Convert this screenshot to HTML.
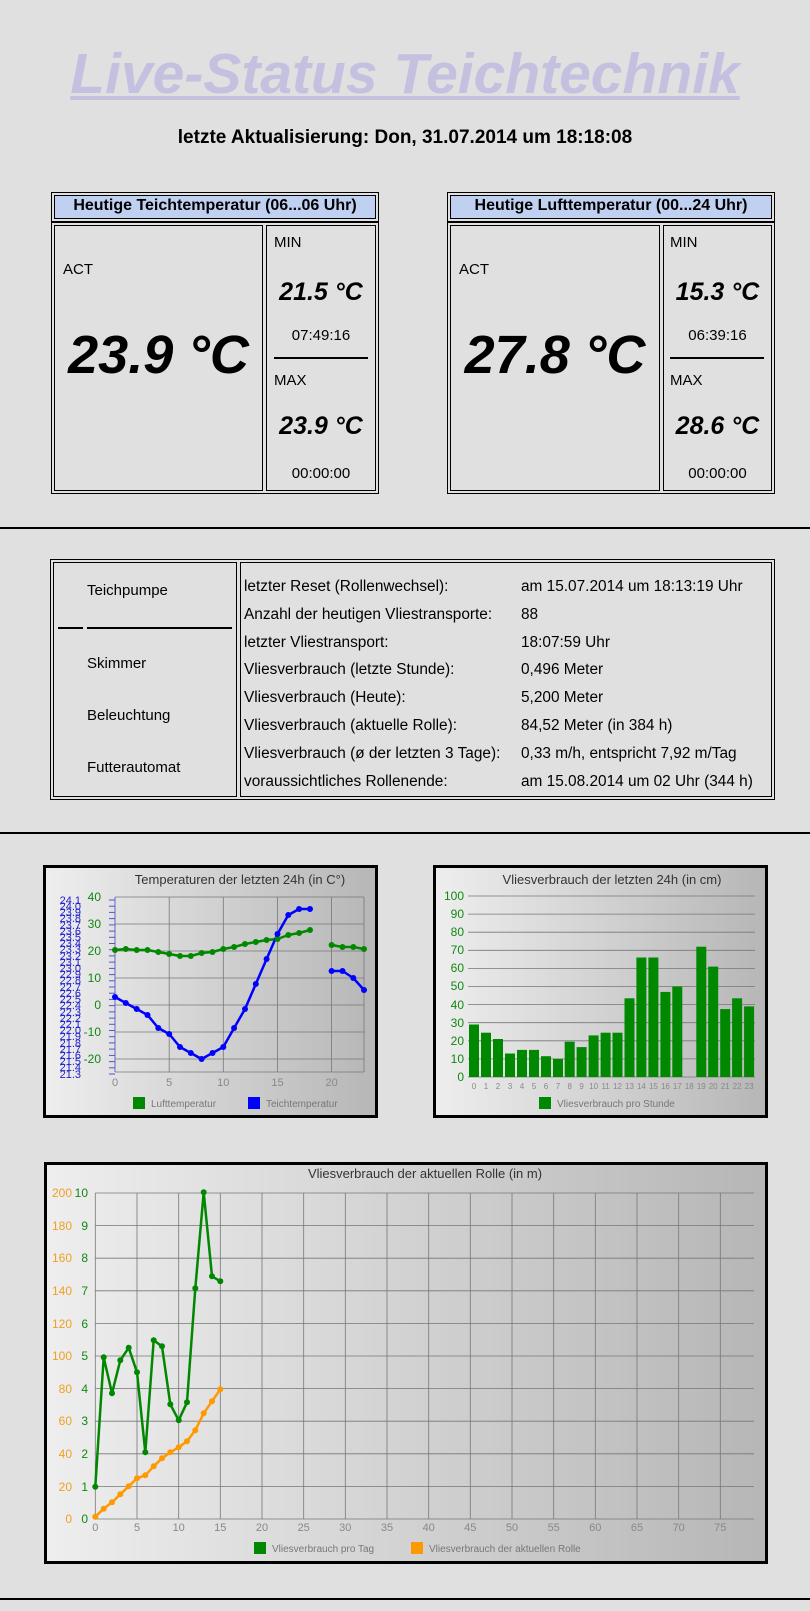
<!DOCTYPE html>
<html><head><meta charset="utf-8"><style>
*{margin:0;padding:0;box-sizing:border-box}
body{width:810px;height:1611px;background:#e0e0e0;position:relative;overflow:hidden;font-family:"Liberation Sans",Arial,sans-serif;color:#000}
.a{position:absolute}
.b{position:absolute;border:1px solid #000}
.t{position:absolute;white-space:nowrap}
.hr{position:absolute;left:0;width:810px;height:2px;background:#000}
</style></head><body>

<div class="t" style="left:0;width:810px;top:41px;text-align:center;font-size:57px;font-weight:bold;font-style:italic;color:#c4c0e0;"><span style="text-decoration:underline;text-decoration-thickness:4px;text-underline-offset:3px">Live-Status Teichtechnik</span></div>
<div class="t" style="left:0;width:810px;top:127px;text-align:center;font-size:19px;font-weight:bold;"><span style="display:inline-block;transform:scaleX(1.0)">letzte Aktualisierung: Don, 31.07.2014 um 18:18:08</span></div>

<!-- left temp box -->
<div class="b" style="left:51px;top:192px;width:328px;height:30px"></div>
<div class="b" style="left:54px;top:195px;width:322px;height:24px;background:#c0d0f0"></div>
<div class="t" style="left:51px;width:328px;top:197px;text-align:center;font-size:16px;font-weight:bold">Heutige Teichtemperatur (06...06 Uhr)</div>
<div class="b" style="left:51px;top:222px;width:328px;height:272px"></div>
<div class="b" style="left:54px;top:225px;width:209px;height:266px"></div>
<div class="b" style="left:266px;top:225px;width:110px;height:266px"></div>
<div class="t" style="left:63px;top:261px;font-size:15px">ACT</div>
<div class="t" style="left:54px;width:209px;top:324px;text-align:center;font-size:54px;font-weight:bold;font-style:italic">23.9 °C</div>
<div class="t" style="left:274px;top:234px;font-size:15px">MIN</div>
<div class="t" style="left:266px;width:110px;top:278px;text-align:center;font-size:25px;font-weight:bold;font-style:italic">21.5 °C</div>
<div class="t" style="left:266px;width:110px;top:327px;text-align:center;font-size:15px">07:49:16</div>
<div class="a" style="left:274px;top:357px;width:94px;height:2px;background:#000"></div>
<div class="t" style="left:274px;top:372px;font-size:15px">MAX</div>
<div class="t" style="left:266px;width:110px;top:412px;text-align:center;font-size:25px;font-weight:bold;font-style:italic">23.9 °C</div>
<div class="t" style="left:266px;width:110px;top:465px;text-align:center;font-size:15px">00:00:00</div>

<!-- right temp box -->
<div class="b" style="left:447px;top:192px;width:328px;height:30px"></div>
<div class="b" style="left:450px;top:195px;width:322px;height:24px;background:#c0d0f0"></div>
<div class="t" style="left:447px;width:328px;top:197px;text-align:center;font-size:16px;font-weight:bold">Heutige Lufttemperatur (00...24 Uhr)</div>
<div class="b" style="left:447px;top:222px;width:328px;height:272px"></div>
<div class="b" style="left:450px;top:225px;width:210px;height:266px"></div>
<div class="b" style="left:663px;top:225px;width:109px;height:266px"></div>
<div class="t" style="left:459px;top:261px;font-size:15px">ACT</div>
<div class="t" style="left:450px;width:210px;top:324px;text-align:center;font-size:54px;font-weight:bold;font-style:italic">27.8 °C</div>
<div class="t" style="left:670px;top:234px;font-size:15px">MIN</div>
<div class="t" style="left:663px;width:109px;top:278px;text-align:center;font-size:25px;font-weight:bold;font-style:italic">15.3 °C</div>
<div class="t" style="left:663px;width:109px;top:327px;text-align:center;font-size:15px">06:39:16</div>
<div class="a" style="left:670px;top:357px;width:94px;height:2px;background:#000"></div>
<div class="t" style="left:670px;top:372px;font-size:15px">MAX</div>
<div class="t" style="left:663px;width:109px;top:412px;text-align:center;font-size:25px;font-weight:bold;font-style:italic">28.6 °C</div>
<div class="t" style="left:663px;width:109px;top:465px;text-align:center;font-size:15px">00:00:00</div>

<div class="hr" style="top:527px"></div>

<!-- status table -->
<div class="b" style="left:50px;top:559px;width:725px;height:241px"></div>
<div class="b" style="left:53px;top:562px;width:184px;height:235px"></div>
<div class="b" style="left:240px;top:562px;width:532px;height:235px"></div>
<div class="t" style="left:87px;top:582px;font-size:15px">Teichpumpe</div>
<div class="a" style="left:58px;top:627px;width:25px;height:2px;background:#000"></div>
<div class="a" style="left:87px;top:627px;width:145px;height:2px;background:#000"></div>
<div class="t" style="left:87px;top:655px;font-size:15px">Skimmer</div>
<div class="t" style="left:87px;top:707px;font-size:15px">Beleuchtung</div>
<div class="t" style="left:87px;top:759px;font-size:15px">Futterautomat</div>
<div style="position:absolute;left:244px;top:573px;font-size:15.4px;line-height:27.8px;white-space:nowrap">letzter Reset (Rollenwechsel):<br>Anzahl der heutigen Vliestransporte:<br>letzter Vliestransport:<br>Vliesverbrauch (letzte Stunde):<br>Vliesverbrauch (Heute):<br>Vliesverbrauch (aktuelle Rolle):<br>Vliesverbrauch (ø der letzten 3 Tage):<br>voraussichtliches Rollenende:</div>
<div style="position:absolute;left:521px;top:573px;font-size:15.4px;line-height:27.8px;white-space:nowrap">am 15.07.2014 um 18:13:19 Uhr<br>88<br>18:07:59 Uhr<br>0,496 Meter<br>5,200 Meter<br>84,52 Meter (in 384 h)<br>0,33 m/h, entspricht 7,92 m/Tag<br>am 15.08.2014 um 02 Uhr (344 h)</div>

<div class="hr" style="top:832px"></div>
<div class="hr" style="top:1598px"></div>

<svg class="a" style="left:0;top:0" width="810" height="1611" font-family="Liberation Sans, Arial, sans-serif">
<defs>
<linearGradient id="g" x1="0" x2="1" y1="0" y2="0"><stop offset="0" stop-color="#eeeeee"/><stop offset="1" stop-color="#b6b6b6"/></linearGradient>
</defs>

<!-- Chart 1 -->
<rect x="44.5" y="866.5" width="332" height="250" fill="url(#g)" stroke="#000" stroke-width="3"/>
<text x="240" y="884" font-size="13" fill="#333" text-anchor="middle">Temperaturen der letzten 24h (in C°)</text>
<g stroke="#777" stroke-width="0.8">
<line x1="115" x2="364" y1="897" y2="897"/><line x1="115" x2="364" y1="924" y2="924"/><line x1="115" x2="364" y1="951" y2="951"/><line x1="115" x2="364" y1="978" y2="978"/><line x1="115" x2="364" y1="1005" y2="1005"/><line x1="115" x2="364" y1="1032" y2="1032"/><line x1="115" x2="364" y1="1059" y2="1059"/><line x1="115" x2="364" y1="1072" y2="1072"/>
<line x1="169.2" x2="169.2" y1="897" y2="1072"/><line x1="223.3" x2="223.3" y1="897" y2="1072"/><line x1="277.5" x2="277.5" y1="897" y2="1072"/><line x1="331.6" x2="331.6" y1="897" y2="1072"/><line x1="364" x2="364" y1="897" y2="1072"/>
</g>
<line x1="115" x2="115" y1="897" y2="1072" stroke="#66c" stroke-width="1"/>
<g stroke="#55c" stroke-width="1">
<line x1="109" x2="115" y1="900" y2="900"/><line x1="109" x2="115" y1="906.2" y2="906.2"/><line x1="109" x2="115" y1="912.4" y2="912.4"/><line x1="109" x2="115" y1="918.6" y2="918.6"/><line x1="109" x2="115" y1="924.9" y2="924.9"/><line x1="109" x2="115" y1="931.1" y2="931.1"/><line x1="109" x2="115" y1="937.3" y2="937.3"/><line x1="109" x2="115" y1="943.5" y2="943.5"/><line x1="109" x2="115" y1="949.7" y2="949.7"/><line x1="109" x2="115" y1="955.9" y2="955.9"/><line x1="109" x2="115" y1="962.1" y2="962.1"/><line x1="109" x2="115" y1="968.4" y2="968.4"/><line x1="109" x2="115" y1="974.6" y2="974.6"/><line x1="109" x2="115" y1="980.8" y2="980.8"/><line x1="109" x2="115" y1="987" y2="987"/><line x1="109" x2="115" y1="993.2" y2="993.2"/><line x1="109" x2="115" y1="999.4" y2="999.4"/><line x1="109" x2="115" y1="1005.6" y2="1005.6"/><line x1="109" x2="115" y1="1011.9" y2="1011.9"/><line x1="109" x2="115" y1="1018.1" y2="1018.1"/><line x1="109" x2="115" y1="1024.3" y2="1024.3"/><line x1="109" x2="115" y1="1030.5" y2="1030.5"/><line x1="109" x2="115" y1="1036.7" y2="1036.7"/><line x1="109" x2="115" y1="1042.9" y2="1042.9"/><line x1="109" x2="115" y1="1049.1" y2="1049.1"/><line x1="109" x2="115" y1="1055.4" y2="1055.4"/><line x1="109" x2="115" y1="1061.6" y2="1061.6"/><line x1="109" x2="115" y1="1067.8" y2="1067.8"/><line x1="109" x2="115" y1="1074" y2="1074"/>
</g>
<g font-size="11" fill="#22c" text-anchor="end">
<text x="81" y="904">24.1</text><text x="81" y="910">24.0</text><text x="81" y="916">23.9</text><text x="81" y="922">23.8</text><text x="81" y="929">23.7</text><text x="81" y="935">23.6</text><text x="81" y="941">23.5</text><text x="81" y="947">23.4</text><text x="81" y="953">23.3</text><text x="81" y="960">23.2</text><text x="81" y="966">23.1</text><text x="81" y="972">23.0</text><text x="81" y="978">22.9</text><text x="81" y="984">22.8</text><text x="81" y="991">22.7</text><text x="81" y="997">22.6</text><text x="81" y="1003">22.5</text><text x="81" y="1009">22.4</text><text x="81" y="1016">22.3</text><text x="81" y="1022">22.2</text><text x="81" y="1028">22.1</text><text x="81" y="1034">22.0</text><text x="81" y="1040">21.9</text><text x="81" y="1047">21.8</text><text x="81" y="1053">21.7</text><text x="81" y="1059">21.6</text><text x="81" y="1065">21.5</text><text x="81" y="1071">21.4</text><text x="81" y="1078">21.3</text>
</g>
<g font-size="12" fill="#181" text-anchor="end">
<text x="101" y="901">40</text><text x="101" y="928">30</text><text x="101" y="955">20</text><text x="101" y="982">10</text><text x="101" y="1009">0</text><text x="101" y="1036">-10</text><text x="101" y="1063">-20</text>
</g>
<g font-size="11" fill="#888" text-anchor="middle">
<text x="115" y="1086">0</text><text x="169.2" y="1086">5</text><text x="223.3" y="1086">10</text><text x="277.5" y="1086">15</text><text x="331.6" y="1086">20</text>
</g>
<g fill="none" stroke-width="2.5" stroke-linejoin="round">
<polyline stroke="#080" points="115,950 125.8,949 136.7,950 147.5,950 158.3,952 169.2,954 180,956 190.8,956 201.6,953 212.5,952 223.3,949 234.1,947 245,944 255.8,942 266.6,940 277.5,939 288.3,935 299.1,933 310,930"/>
<polyline stroke="#080" points="331.6,945 342.5,947 353.3,947 364,949"/>
<polyline stroke="#00f" points="115,997 125.8,1003 136.7,1009 147.5,1015 158.3,1028 169.2,1034 180,1047 190.8,1053 201.6,1059 212.5,1053 223.3,1047 234.1,1028 245,1009 255.8,984 266.6,959 277.5,934 288.3,915 299.1,909 310,909"/>
<polyline stroke="#00f" points="331.6,971 342.5,971 353.3,978 364,990"/>
</g>
<g fill="#080">
<circle cx="115" cy="950" r="3"/><circle cx="125.8" cy="949" r="3"/><circle cx="136.7" cy="950" r="3"/><circle cx="147.5" cy="950" r="3"/><circle cx="158.3" cy="952" r="3"/><circle cx="169.2" cy="954" r="3"/><circle cx="180" cy="956" r="3"/><circle cx="190.8" cy="956" r="3"/><circle cx="201.6" cy="953" r="3"/><circle cx="212.5" cy="952" r="3"/><circle cx="223.3" cy="949" r="3"/><circle cx="234.1" cy="947" r="3"/><circle cx="245" cy="944" r="3"/><circle cx="255.8" cy="942" r="3"/><circle cx="266.6" cy="940" r="3"/><circle cx="277.5" cy="939" r="3"/><circle cx="288.3" cy="935" r="3"/><circle cx="299.1" cy="933" r="3"/><circle cx="310" cy="930" r="3"/><circle cx="331.6" cy="945" r="3"/><circle cx="342.5" cy="947" r="3"/><circle cx="353.3" cy="947" r="3"/><circle cx="364" cy="949" r="3"/>
</g>
<g fill="#00f">
<circle cx="115" cy="997" r="3"/><circle cx="125.8" cy="1003" r="3"/><circle cx="136.7" cy="1009" r="3"/><circle cx="147.5" cy="1015" r="3"/><circle cx="158.3" cy="1028" r="3"/><circle cx="169.2" cy="1034" r="3"/><circle cx="180" cy="1047" r="3"/><circle cx="190.8" cy="1053" r="3"/><circle cx="201.6" cy="1059" r="3"/><circle cx="212.5" cy="1053" r="3"/><circle cx="223.3" cy="1047" r="3"/><circle cx="234.1" cy="1028" r="3"/><circle cx="245" cy="1009" r="3"/><circle cx="255.8" cy="984" r="3"/><circle cx="266.6" cy="959" r="3"/><circle cx="277.5" cy="934" r="3"/><circle cx="288.3" cy="915" r="3"/><circle cx="299.1" cy="909" r="3"/><circle cx="310" cy="909" r="3"/><circle cx="331.6" cy="971" r="3"/><circle cx="342.5" cy="971" r="3"/><circle cx="353.3" cy="978" r="3"/><circle cx="364" cy="990" r="3"/>
</g>
<rect x="133" y="1097" width="12" height="12" fill="#080"/><text x="151" y="1107" font-size="10" fill="#777">Lufttemperatur</text>
<rect x="248" y="1097" width="12" height="12" fill="#00f"/><text x="266" y="1107" font-size="10" fill="#777">Teichtemperatur</text>

<!-- Chart 2 -->
<rect x="434.5" y="866.5" width="332" height="250" fill="url(#g)" stroke="#000" stroke-width="3"/>
<text x="612" y="884" font-size="13" fill="#333" text-anchor="middle">Vliesverbrauch der letzten 24h (in cm)</text>
<g stroke="#777" stroke-width="0.8">
<line x1="468" x2="755" y1="896" y2="896"/><line x1="468" x2="755" y1="914.1" y2="914.1"/><line x1="468" x2="755" y1="932.2" y2="932.2"/><line x1="468" x2="755" y1="950.3" y2="950.3"/><line x1="468" x2="755" y1="968.4" y2="968.4"/><line x1="468" x2="755" y1="986.5" y2="986.5"/><line x1="468" x2="755" y1="1004.6" y2="1004.6"/><line x1="468" x2="755" y1="1022.7" y2="1022.7"/><line x1="468" x2="755" y1="1040.8" y2="1040.8"/><line x1="468" x2="755" y1="1058.9" y2="1058.9"/><line x1="468" x2="755" y1="1077" y2="1077"/>
</g>
<g font-size="12" fill="#181" text-anchor="end">
<text x="464" y="900">100</text><text x="464" y="918">90</text><text x="464" y="936">80</text><text x="464" y="954">70</text><text x="464" y="972">60</text><text x="464" y="990">50</text><text x="464" y="1009">40</text><text x="464" y="1027">30</text><text x="464" y="1045">20</text><text x="464" y="1063">10</text><text x="464" y="1081">0</text>
</g>
<g fill="#080">
<rect x="469" y="1024.5" width="10" height="52.5"/><rect x="481" y="1032.7" width="10" height="44.3"/><rect x="493" y="1039" width="10" height="38"/><rect x="505" y="1053.5" width="10" height="23.5"/><rect x="517" y="1049.9" width="10" height="27.1"/><rect x="529" y="1049.9" width="10" height="27.1"/><rect x="541" y="1056.2" width="10" height="20.8"/><rect x="553" y="1058.9" width="10" height="18.1"/><rect x="564.7" y="1041.7" width="10" height="35.3"/><rect x="576.6" y="1047.1" width="10" height="29.9"/><rect x="588.6" y="1035.4" width="10" height="41.6"/><rect x="600.6" y="1032.7" width="10" height="44.3"/><rect x="612.5" y="1032.7" width="10" height="44.3"/><rect x="624.5" y="998.3" width="10" height="78.7"/><rect x="636.4" y="957.5" width="10" height="119.5"/><rect x="648.4" y="957.5" width="10" height="119.5"/><rect x="660.4" y="991.9" width="10" height="85.1"/><rect x="672.3" y="986.5" width="10" height="90.5"/><rect x="696.3" y="946.7" width="10" height="130.3"/><rect x="708.2" y="966.6" width="10" height="110.4"/><rect x="720.2" y="1009.1" width="10" height="67.9"/><rect x="732.1" y="998.3" width="10" height="78.7"/><rect x="744.1" y="1006.4" width="10" height="70.6"/>
</g>
<g font-size="8" fill="#888" text-anchor="middle">
<text x="474" y="1089">0</text><text x="486" y="1089">1</text><text x="498" y="1089">2</text><text x="510" y="1089">3</text><text x="522" y="1089">4</text><text x="534" y="1089">5</text><text x="546" y="1089">6</text><text x="558" y="1089">7</text><text x="569.7" y="1089">8</text><text x="581.6" y="1089">9</text><text x="593.6" y="1089">10</text><text x="605.6" y="1089">11</text><text x="617.5" y="1089">12</text><text x="629.5" y="1089">13</text><text x="641.4" y="1089">14</text><text x="653.4" y="1089">15</text><text x="665.4" y="1089">16</text><text x="677.3" y="1089">17</text><text x="689.3" y="1089">18</text><text x="701.3" y="1089">19</text><text x="713.2" y="1089">20</text><text x="725.2" y="1089">21</text><text x="737.1" y="1089">22</text><text x="749.1" y="1089">23</text>
</g>
<rect x="539" y="1097" width="12" height="12" fill="#080"/><text x="557" y="1107" font-size="10" fill="#777">Vliesverbrauch pro Stunde</text>

<!-- Chart 3 -->
<rect x="45.5" y="1163.5" width="721" height="399" fill="url(#g)" stroke="#000" stroke-width="3"/>
<text x="425" y="1178" font-size="13" fill="#333" text-anchor="middle">Vliesverbrauch der aktuellen Rolle (in m)</text>
<g stroke="#777" stroke-width="0.8">
<line x1="95.3" x2="754" y1="1193" y2="1193"/><line x1="95.3" x2="754" y1="1225.6" y2="1225.6"/><line x1="95.3" x2="754" y1="1258.2" y2="1258.2"/><line x1="95.3" x2="754" y1="1290.8" y2="1290.8"/><line x1="95.3" x2="754" y1="1323.4" y2="1323.4"/><line x1="95.3" x2="754" y1="1356" y2="1356"/><line x1="95.3" x2="754" y1="1388.6" y2="1388.6"/><line x1="95.3" x2="754" y1="1421.2" y2="1421.2"/><line x1="95.3" x2="754" y1="1453.8" y2="1453.8"/><line x1="95.3" x2="754" y1="1486.4" y2="1486.4"/><line x1="95.3" x2="754" y1="1519" y2="1519"/>
<line x1="95.3" x2="95.3" y1="1193" y2="1519"/><line x1="137" x2="137" y1="1193" y2="1519"/><line x1="178.7" x2="178.7" y1="1193" y2="1519"/><line x1="220.3" x2="220.3" y1="1193" y2="1519"/><line x1="262" x2="262" y1="1193" y2="1519"/><line x1="303.7" x2="303.7" y1="1193" y2="1519"/><line x1="345.3" x2="345.3" y1="1193" y2="1519"/><line x1="387" x2="387" y1="1193" y2="1519"/><line x1="428.7" x2="428.7" y1="1193" y2="1519"/><line x1="470.3" x2="470.3" y1="1193" y2="1519"/><line x1="512" x2="512" y1="1193" y2="1519"/><line x1="553.7" x2="553.7" y1="1193" y2="1519"/><line x1="595.3" x2="595.3" y1="1193" y2="1519"/><line x1="637" x2="637" y1="1193" y2="1519"/><line x1="678.7" x2="678.7" y1="1193" y2="1519"/><line x1="720.3" x2="720.3" y1="1193" y2="1519"/>
</g>
<g font-size="12" fill="#181" text-anchor="end">
<text x="88" y="1197">10</text><text x="88" y="1230">9</text><text x="88" y="1262">8</text><text x="88" y="1295">7</text><text x="88" y="1328">6</text><text x="88" y="1360">5</text><text x="88" y="1393">4</text><text x="88" y="1425">3</text><text x="88" y="1458">2</text><text x="88" y="1491">1</text><text x="88" y="1523">0</text>
</g>
<g font-size="12" fill="#f0a020" text-anchor="end">
<text x="72" y="1197">200</text><text x="72" y="1230">180</text><text x="72" y="1262">160</text><text x="72" y="1295">140</text><text x="72" y="1328">120</text><text x="72" y="1360">100</text><text x="72" y="1393">80</text><text x="72" y="1425">60</text><text x="72" y="1458">40</text><text x="72" y="1491">20</text><text x="72" y="1523">0</text>
</g>
<g font-size="11" fill="#888" text-anchor="middle">
<text x="95.3" y="1531">0</text><text x="137" y="1531">5</text><text x="178.7" y="1531">10</text><text x="220.3" y="1531">15</text><text x="262" y="1531">20</text><text x="303.7" y="1531">25</text><text x="345.3" y="1531">30</text><text x="387" y="1531">35</text><text x="428.7" y="1531">40</text><text x="470.3" y="1531">45</text><text x="512" y="1531">50</text><text x="553.7" y="1531">55</text><text x="595.3" y="1531">60</text><text x="637" y="1531">65</text><text x="678.7" y="1531">70</text><text x="720.3" y="1531">75</text>
</g>
<g fill="none" stroke-width="2.5" stroke-linejoin="round">
<polyline stroke="#f90" points="95.3,1516.7 103.7,1508.7 112,1502.3 120.3,1494.3 128.7,1486.3 137,1478.3 145.3,1475.3 153.7,1466.3 162,1458.3 170.3,1452.3 178.7,1447.3 187,1441.3 195.3,1430.3 203.7,1413.3 212,1401.3 220.3,1389.3"/>
<polyline stroke="#080" points="95.3,1486.7 103.7,1357.3 112,1393.3 120.3,1360.3 128.7,1347.7 137,1372.3 145.3,1452.3 153.7,1340.3 162,1346.3 170.3,1404.3 178.7,1420.3 187,1402.3 195.3,1288.3 203.7,1192.3 212,1276.3 220.3,1281.3"/>
</g>
<g fill="#f90">
<circle cx="95.3" cy="1516.7" r="3"/><circle cx="103.7" cy="1508.7" r="3"/><circle cx="112" cy="1502.3" r="3"/><circle cx="120.3" cy="1494.3" r="3"/><circle cx="128.7" cy="1486.3" r="3"/><circle cx="137" cy="1478.3" r="3"/><circle cx="145.3" cy="1475.3" r="3"/><circle cx="153.7" cy="1466.3" r="3"/><circle cx="162" cy="1458.3" r="3"/><circle cx="170.3" cy="1452.3" r="3"/><circle cx="178.7" cy="1447.3" r="3"/><circle cx="187" cy="1441.3" r="3"/><circle cx="195.3" cy="1430.3" r="3"/><circle cx="203.7" cy="1413.3" r="3"/><circle cx="212" cy="1401.3" r="3"/><circle cx="220.3" cy="1389.3" r="3"/>
</g>
<g fill="#080">
<circle cx="95.3" cy="1486.7" r="3"/><circle cx="103.7" cy="1357.3" r="3"/><circle cx="112" cy="1393.3" r="3"/><circle cx="120.3" cy="1360.3" r="3"/><circle cx="128.7" cy="1347.7" r="3"/><circle cx="137" cy="1372.3" r="3"/><circle cx="145.3" cy="1452.3" r="3"/><circle cx="153.7" cy="1340.3" r="3"/><circle cx="162" cy="1346.3" r="3"/><circle cx="170.3" cy="1404.3" r="3"/><circle cx="178.7" cy="1420.3" r="3"/><circle cx="187" cy="1402.3" r="3"/><circle cx="195.3" cy="1288.3" r="3"/><circle cx="203.7" cy="1192.3" r="3"/><circle cx="212" cy="1276.3" r="3"/><circle cx="220.3" cy="1281.3" r="3"/>
</g>
<rect x="254" y="1542" width="12" height="12" fill="#080"/><text x="272" y="1552" font-size="10" fill="#777">Vliesverbrauch pro Tag</text>
<rect x="411" y="1542" width="12" height="12" fill="#f90"/><text x="429" y="1552" font-size="10" fill="#777">Vliesverbrauch der aktuellen Rolle</text>
</svg>
</body></html>
